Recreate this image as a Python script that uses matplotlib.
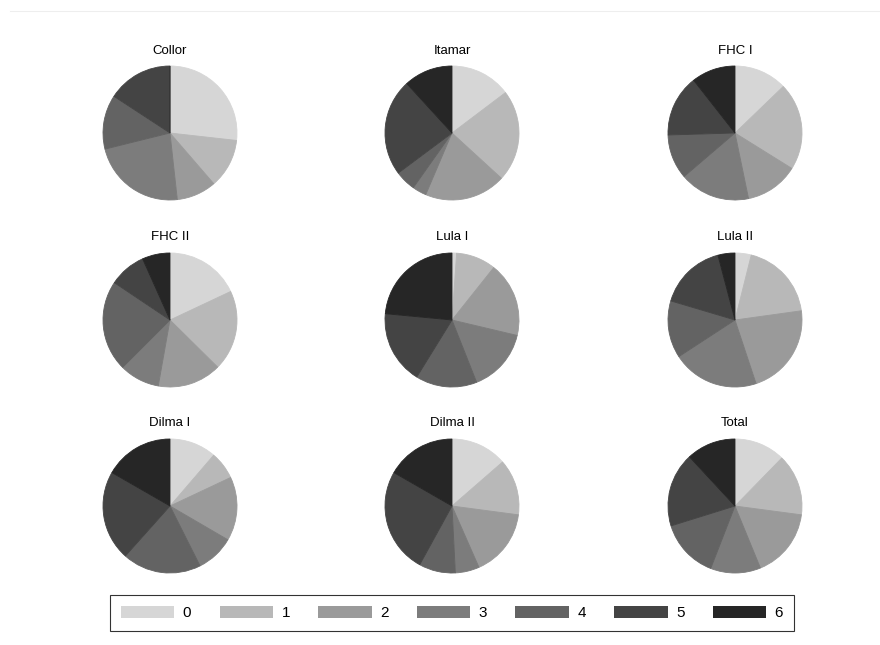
import matplotlib.pyplot as plt
from matplotlib.patches import Patch
from matplotlib.lines import Line2D

plt.rcParams['font.family'] = ['Liberation Sans', 'DejaVu Sans']

# share of each category (0..6) per government
titles = ["Collor", "Itamar", "FHC I", "FHC II", "Lula I", "Lula II",
          "Dilma I", "Dilma II", "Total"]
collor = [26.8, 11.9, 9.6, 22.9, 13.1, 15.8, 0.0]
itamar = [14.7, 22.1, 19.6, 3.4, 5.0, 23.4, 11.8]
fhc1 = [12.8, 21.1, 12.9, 17.0, 10.8, 14.9, 10.6]
fhc2 = [18.0, 19.4, 15.4, 9.7, 21.9, 8.9, 6.7]
lula1 = [1.1, 9.6, 18.0, 15.3, 14.8, 17.7, 23.5]
lula2 = [3.9, 18.9, 22.1, 20.9, 13.8, 16.3, 4.1]
dilma1 = [11.3, 6.7, 15.4, 9.2, 19.0, 21.7, 16.7]
dilma2 = [13.6, 13.5, 16.3, 5.8, 8.8, 25.3, 16.7]
total = [12.3, 14.8, 16.7, 12.1, 14.3, 17.9, 11.9]
categories = ["0", "1", "2", "3", "4", "5", "6"]
colors = ["#d6d6d6", "#b8b8b8", "#9a9a9a", "#7c7c7c", "#636363", "#444444", "#262626"]

series = [collor, itamar, fhc1, fhc2, lula1, lula2, dilma1, dilma2, total]

W, H = 880, 645
fig = plt.figure(figsize=(W / 100, H / 100), dpi=100)

# faint outer line at the top
fig.add_artist(Line2D([10 / W, 1], [1 - 11 / H, 1 - 11 / H], color="#eeeeee", lw=0.8))

col_x = [170, 452, 735]
row_y = [133, 320, 506]
r = 67

for i, (name, vals) in enumerate(zip(titles, series)):
    cx = col_x[i % 3]
    cy = row_y[i // 3]
    ax = fig.add_axes([(cx - r) / W, (H - cy - r) / H, 2 * r / W, 2 * r / H])
    wedges, _ = ax.pie(vals, colors=colors, startangle=90, counterclock=False,
                       radius=1, wedgeprops=dict(linewidth=0.6))
    for w, c in zip(wedges, colors):
        w.set_edgecolor(c)
    ax.set_xlim(-1.0, 1.0)
    ax.set_ylim(-1.0, 1.0)
    ax.set_aspect("equal")
    ax.set_title(name, fontsize=9.5, pad=9)

handles = [Patch(facecolor=c, edgecolor="none") for c in colors]
leg = fig.legend(handles, categories, loc="center", ncol=7,
                 bbox_to_anchor=(452 / W, 1 - 613 / H), fontsize=11,
                 frameon=True, fancybox=False, handlelength=3.5, handleheight=0.85,
                 columnspacing=1.85, handletextpad=0.55, borderpad=0.7,
                 borderaxespad=0)
leg.get_frame().set_edgecolor("black")
leg.get_frame().set_linewidth(0.8)

fig.savefig("out.png", dpi=100)
